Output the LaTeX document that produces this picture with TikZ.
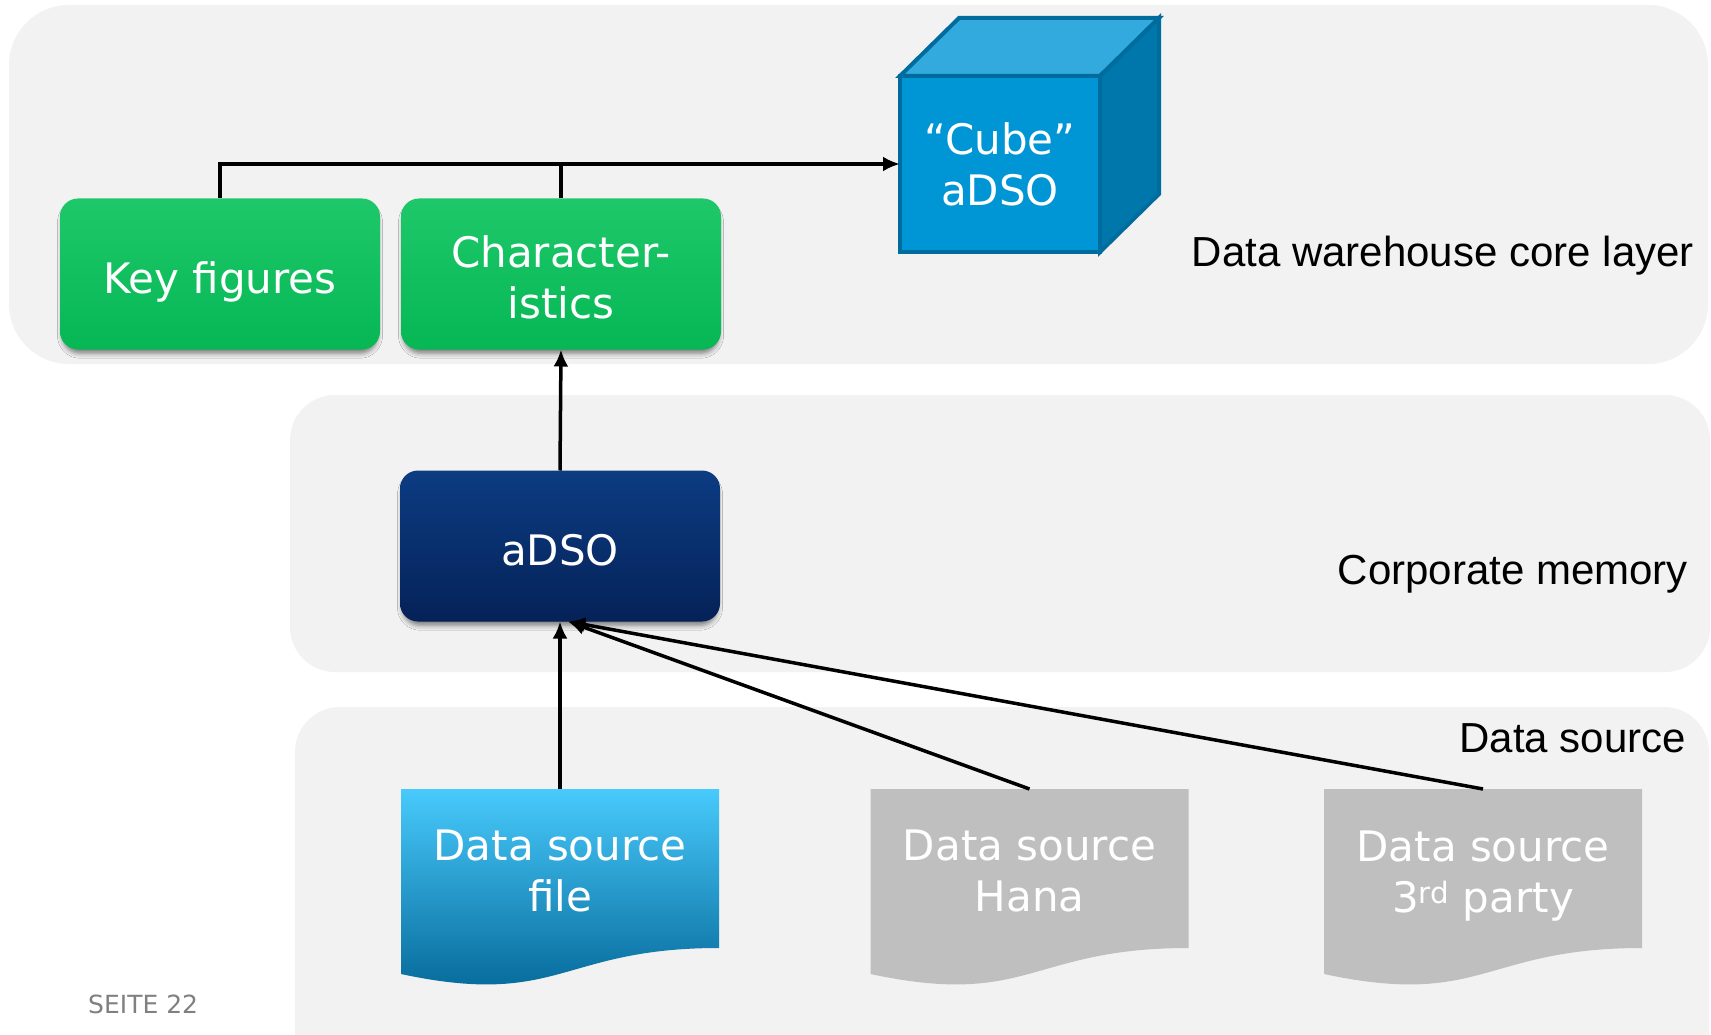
\documentclass[tikz,border=0pt]{standalone}
\usepackage{fontspec}
\setmainfont{DejaVu Sans}
\newfontfamily\labelfont{Liberation Sans}
\usetikzlibrary{arrows.meta,shadows.blur}

\definecolor{panelgray}{RGB}{242,242,242}
\definecolor{greentop}{RGB}{30,200,106}
\definecolor{greenbot}{RGB}{6,183,84}
\definecolor{navytop}{RGB}{12,60,130}
\definecolor{navybot}{RGB}{5,34,88}
\definecolor{cubefront}{RGB}{0,150,214}
\definecolor{cubetop}{RGB}{51,170,222}
\definecolor{cubeside}{RGB}{0,119,170}
\definecolor{cubeedge}{RGB}{0,108,158}
\definecolor{filetop}{RGB}{72,202,252}
\definecolor{filemid}{RGB}{0,156,220}
\definecolor{filebot}{RGB}{0,98,146}
\definecolor{srcgray}{RGB}{191,191,191}
\definecolor{pagegray}{RGB}{128,128,128}

\newcommand{\boxfont}{\fontsize{42}{51}\selectfont}
% sheet-of-paper outline with a wavy lower edge, fitted to a named node
\newcommand{\srcdocpath}[2]{%
  \path[#2] (#1.north west) -- (#1.north east) -- ([yshift=-159pt]#1.north east)
    .. controls ([shift={(-159,159)}]#1.north east) and ([shift={(159,219)}]#1.north west)
    .. ([yshift=-185pt]#1.north west) -- cycle;}

\begin{document}
\begin{tikzpicture}[x=1pt,y=-1pt,
  panel/.style={fill=panelgray},
  softshadow/.style={blur shadow={shadow xshift=0pt,shadow yshift=-5pt,
      shadow blur radius=5pt,shadow scale=0.985,shadow opacity=50}},
  procbox/.style={rectangle,rounded corners=18pt,minimum width=320pt,
      minimum height=151pt,inner sep=0pt,outer sep=0pt,text=white,
      align=center,font=\boxfont,softshadow},
  oneline/.style={text height=48pt,text depth=10pt},
  greenbox/.style={procbox,top color=greentop,bottom color=greenbot},
  navybox/.style={procbox,top color=navytop,bottom color=navybot},
  boxtext/.style={text=white,align=center,font=\boxfont,inner sep=0pt},
  cubeface/.style={draw=cubeedge,line width=4pt,line join=miter},
  srcdoc/.style={rectangle,inner sep=0pt,outer sep=0pt,minimum width=318pt,
      minimum height=198pt},
  conn/.style={line width=3.5pt,-{Latex[length=17pt,width=15pt]}},
  plainline/.style={line width=3.5pt},
  layerlabel/.style={font=\labelfont\fontsize{42}{50}\selectfont,inner sep=0pt},
  pagelabel/.style={font=\fontsize{25}{30}\selectfont,text=pagegray,inner sep=0pt}
]
\useasboundingbox (0,0) rectangle (1711,1035);
\fill[white] (0,0) rectangle (1711,1035);

% layer panels
\fill[panel,rounded corners=60pt] (9,5) rectangle (1708,364);
\fill[panel,rounded corners=45pt] (290,395) rectangle (1710,672);
\fill[panel,rounded corners=45pt] (295,707) rectangle (1709,1080);

% core layer
\node[greenbox,oneline] (kf) at (220,274) {Key figures};
\node[greenbox] (ch) at (561,274) {};
\node[boxtext] (chtxt) at ([yshift=-3pt]ch.center) {Character-\\istics};

\node[rectangle,cubeface,fill=cubefront,minimum width=200pt,minimum height=176pt,
      inner sep=0pt,outer sep=0pt,text=white,align=center,font=\boxfont]
      (cube) at (1000,164) {“Cube”\\aDSO};
\path[cubeface,fill=cubetop] (cube.north west) -- ([shift={(59,-58)}]cube.north west)
  -- ([shift={(59,-58)}]cube.north east) -- (cube.north east) -- cycle;
\path[cubeface,fill=cubeside] (cube.north east) -- ([shift={(59,-58)}]cube.north east)
  -- ([shift={(59,-58)}]cube.south east) -- (cube.south east) -- cycle;

% corporate memory
\node[navybox,oneline] (adso) at (560,546) {aDSO};

% data sources
\node[srcdoc] (dsfile) at (560,888) {};
\node[srcdoc] (dshana) at (1029.5,888) {};
\node[srcdoc] (dsthird) at (1483,888) {};
\srcdocpath{dsfile}{top color=filetop,middle color=filemid,bottom color=filebot}
\srcdocpath{dshana}{fill=srcgray}
\srcdocpath{dsthird}{fill=srcgray}
\node[boxtext] (dsfiletxt) at ([yshift=17pt]dsfile.center) {Data source\\file};
\node[boxtext] (dshanatxt) at ([yshift=17pt]dshana.center) {Data source\\Hana};
\node[boxtext] (dsthirdtxt) at ([yshift=12pt]dsthird.center) {Data source\\3\textsuperscript{rd} party};

% connectors
\draw[conn] (kf.north) |- (cube.west);
\draw[plainline] (ch.north) -- (ch.north |- cube.west);
\draw[conn] (adso.north) -- (ch.south);
\draw[conn] (dsfile.north) -- (adso.south);
\draw[conn] (dshana.north) -- ([xshift=8pt]adso.south);
\draw[conn] (dsthird.north) -- ([xshift=8pt]adso.south);

% layer captions
\node[layerlabel,anchor=base east] (lblcore) at (1694,266) {Data warehouse core layer};
\node[layerlabel,anchor=base east] (lblmem) at (1688,584) {Corporate memory};
\node[layerlabel,anchor=base east] (lblsrc) at (1686,752) {Data source};

\node[pagelabel,anchor=base west] (pageno) at (88,1013) {SEITE 22};
\end{tikzpicture}
\end{document}
